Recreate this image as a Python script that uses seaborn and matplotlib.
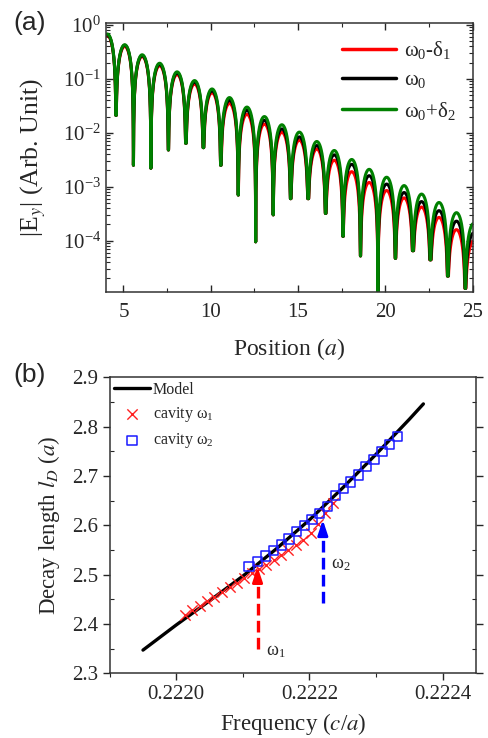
import numpy as np
import pandas as pd
import matplotlib
matplotlib.use("Agg")
import matplotlib.pyplot as plt
import seaborn as sns

# ---- panel (a): |Ey| along the waveguide ----
# dip positions (field nodes); first and last sit just outside the axis range
dip_x = [3.57, 4.57, 5.57, 6.57, 7.57, 8.57, 9.57, 10.57, 11.57, 12.57, 13.57,
         14.57, 15.57, 16.57, 17.57, 18.57, 19.57, 20.57, 21.57, 22.57, 23.57,
         24.57, 25.57]
# depth of each dip
dip_val = [2e-2, 2.1e-2, 2.5e-3, 2.2e-3, 4.8e-3, 6.4e-3, 5.3e-3, 2.5e-3, 7e-4,
           9.5e-5, 3e-4, 6e-4, 6e-4, 3.2e-4, 1.2e-4, 5.2e-5, 5e-6, 4.7e-5,
           6.5e-5, 4.4e-5, 2.2e-5, 1.3e-5, 1e-5]
# lobe peaks at positions 4 ... 25
peak_green = [0.68, 0.43, 0.28, 0.195, 0.135, 0.093, 0.065, 0.045, 0.030, 0.020,
              0.0141, 0.0103, 0.0069, 0.0047, 0.0032, 0.0021, 0.0015, 0.00105,
              0.00073, 0.00051, 0.00033, 0.00021]
peak_black = [0.66, 0.42, 0.27, 0.185, 0.128, 0.087, 0.060, 0.040, 0.026, 0.017,
              0.0118, 0.0084, 0.0058, 0.0039, 0.0026, 0.0016, 0.00112, 0.00078,
              0.00053, 0.00036, 0.00023, 0.00014]
peak_red = [0.64, 0.40, 0.26, 0.175, 0.12, 0.080, 0.055, 0.035, 0.022, 0.0145,
            0.0102, 0.0073, 0.0050, 0.0031, 0.0019, 0.0012, 0.00085, 0.00062,
            0.00042, 0.00027, 0.00016, 0.0001]
curve_labels = [r"$\mathregular{\omega_0}$-$\mathregular{\delta_1}$",
                r"$\mathregular{\omega_0}$",
                r"$\mathregular{\omega_0}$+$\mathregular{\delta_2}$"]
curve_colors = ["#ff0000", "#000000", "#008000"]

# ---- panel (b): decay length vs frequency ----
model_f = [0.22195, 0.22200, 0.22205, 0.22210, 0.22215, 0.22220, 0.22225,
           0.22230, 0.22235, 0.222371]
model_ld = [2.347, 2.398, 2.447, 2.497, 2.552, 2.611, 2.676, 2.744, 2.815, 2.846]

cav1_f = [0.222013, 0.222024, 0.222035, 0.222046, 0.222057, 0.222068, 0.222080,
          0.222091, 0.222102, 0.222113, 0.222124, 0.222135, 0.222146, 0.222157,
          0.222168, 0.222180, 0.222191, 0.222202, 0.222213, 0.222224, 0.222236]
cav1_ld = [2.418, 2.428, 2.437, 2.446, 2.455, 2.465, 2.474, 2.484, 2.494, 2.503,
           2.511, 2.520, 2.530, 2.539, 2.549, 2.559, 2.570, 2.585, 2.603, 2.624,
           2.645]

cav2_f = [0.222109, 0.222122, 0.222134, 0.222146, 0.222158, 0.222169, 0.222181,
          0.222192, 0.222204, 0.222215, 0.222227, 0.222239, 0.222251, 0.222262,
          0.222274, 0.222285, 0.222297, 0.222309, 0.222320, 0.222332]
cav2_ld = [2.516, 2.526, 2.538, 2.549, 2.560, 2.572, 2.587, 2.599, 2.612, 2.624,
           2.638, 2.661, 2.675, 2.688, 2.702, 2.719, 2.734, 2.749, 2.764, 2.780]

# resonance markers (dashed arrows)
arrow_f = [0.222122, 0.222220]
arrow_base = [2.35, 2.443]
arrow_tip = [2.516, 2.611]
arrow_colors = ["#ff0000", "#0000ff"]
arrow_text = [r"$\mathregular{\omega_1}$", r"$\mathregular{\omega_2}$"]


def lobes(peaks):
    # standing-wave lobes between neighbouring nodes, scaled to the read peaks
    xs, ys = [], []
    for i, p in enumerate(peaks):
        t = np.linspace(0, 1, 241)
        x = dip_x[i] + t * (dip_x[i + 1] - dip_x[i])
        floor = np.where(t < 0.5, dip_val[i], dip_val[i + 1])
        xs.append(x)
        ys.append(np.maximum(p * np.abs(np.sin(np.pi * t)), floor))
    return np.concatenate(xs), np.concatenate(ys)


sns.set_style("ticks")
plt.rcParams["font.family"] = ["Liberation Serif", "DejaVu Serif"]
plt.rcParams["mathtext.fontset"] = "stix"

fig = plt.figure(figsize=(4.89, 7.38), dpi=100)
ax1 = fig.add_axes([0.2168, 0.6039, 0.7499, 0.3653])
ax2 = fig.add_axes([0.2243, 0.0877, 0.7491, 0.4011])

rows = []
for lab, pk in zip(curve_labels, [peak_red, peak_black, peak_green]):
    x, y = lobes(pk)
    rows.append(pd.DataFrame({"pos": x, "field": y, "curve": lab}))
field_df = pd.concat(rows, ignore_index=True)

sns.lineplot(data=field_df, x="pos", y="field", hue="curve", hue_order=curve_labels,
             palette=curve_colors, estimator=None, sort=False, lw=2.2, ax=ax1)
ax1.set_yscale("log")
ax1.set_xlim(4, 25)
ax1.set_ylim(1.1e-5, 1.1)
ax1.set_xticks([5, 10, 15, 20, 25])
ax1.set_xticks([7.5, 12.5, 17.5, 22.5], minor=True)
ax1.set_yticks([1e-4, 1e-3, 1e-2, 1e-1, 1e0])
ax1.tick_params(which="both", direction="in", top=True, right=True, labelsize=15)
ax1.tick_params(which="major", length=5, width=1)
ax1.tick_params(which="minor", length=3, width=0.8)
ax1.tick_params(axis="x", pad=8)
ax1.set_xlabel(r"Position ($a$)", fontsize=17, labelpad=10)
ax1.set_ylabel(r"|E$_y$| (Arb. Unit)", fontsize=18.5, labelpad=11)
h, l = ax1.get_legend_handles_labels()
ax1.legend(h, curve_labels, loc="upper right", frameon=False, fontsize=15,
           handlelength=2.6, handletextpad=0.4, labelspacing=0.45,
           borderaxespad=0.4)
for leg_line in ax1.get_legend().get_lines():
    leg_line.set_linewidth(2.5)

# panel (b)
sns.lineplot(x=model_f, y=model_ld, color="black", lw=2.4, ax=ax2, label="Model",
             sort=False)
sns.scatterplot(x=cav1_f, y=cav1_ld, marker="x", color="#ff2020", s=55,
                linewidth=1.0, ax=ax2, label=r"cavity $\mathregular{\omega_1}$",
                zorder=3)
ax2.scatter(cav2_f, cav2_ld, marker="s", s=45, facecolors="none",
            edgecolors="#1a1aff", linewidths=1.1, zorder=4,
            label=r"cavity $\mathregular{\omega_2}$")

for f, b, tp, c, txt in zip(arrow_f, arrow_base, arrow_tip, arrow_colors, arrow_text):
    ax2.plot([f, f], [b, tp - 0.03], color=c, lw=2.4, ls=(0, (3.5, 1.6)))
    ax2.annotate("", xy=(f, tp), xytext=(f, tp - 0.032),
                 arrowprops=dict(arrowstyle="-|>,head_length=0.9,head_width=0.3",
                                 color=c, lw=2.0, shrinkA=0, shrinkB=0))
ax2.text(arrow_f[0] + 0.000013, arrow_base[0] - 0.005, arrow_text[0],
         fontsize=13, va="center", ha="left")
ax2.text(arrow_f[1] + 0.000013, 2.52, arrow_text[1], fontsize=13,
         va="center", ha="left")

ax2.set_xlim(0.2219, 0.22245)
ax2.set_ylim(2.3, 2.9)
ax2.set_xticks([0.2220, 0.2222, 0.2224])
ax2.set_xticklabels(["0.2220", "0.2222", "0.2224"])
ax2.set_xticks([0.2219, 0.2221, 0.2223], minor=True)
ax2.set_yticks([2.3, 2.4, 2.5, 2.6, 2.7, 2.8, 2.9])
ax2.set_yticks([2.35, 2.45, 2.55, 2.65, 2.75, 2.85], minor=True)
ax2.tick_params(which="major", direction="out", length=5, width=1, labelsize=15)
ax2.tick_params(which="minor", direction="in", length=3, width=0.8)
ax2.tick_params(axis="x", which="minor", direction="out")
ax2.tick_params(axis="y", which="both", right=True)
ax2.set_xlabel(r"Frequency ($c$/$a$)", fontsize=16.5, labelpad=5)
ax2.set_ylabel(r"Decay length $l_D$ ($a$)", fontsize=16.5, labelpad=7)
ax2.legend(loc="upper left", frameon=False, fontsize=11.5, handlelength=2.2,
           handletextpad=0.2, labelspacing=0.45, borderaxespad=0.1,
           borderpad=0.2)

for ax in (ax1, ax2):
    for sp in ax.spines.values():
        sp.set_linewidth(1.1)
        sp.set_color("#333333")

fig.text(0.027, 0.985, "(a)", fontsize=19, family="Liberation Sans", va="top")
fig.text(0.027, 0.508, "(b)", fontsize=19, family="Liberation Sans", va="top")

fig.savefig("out.png", dpi=100)
